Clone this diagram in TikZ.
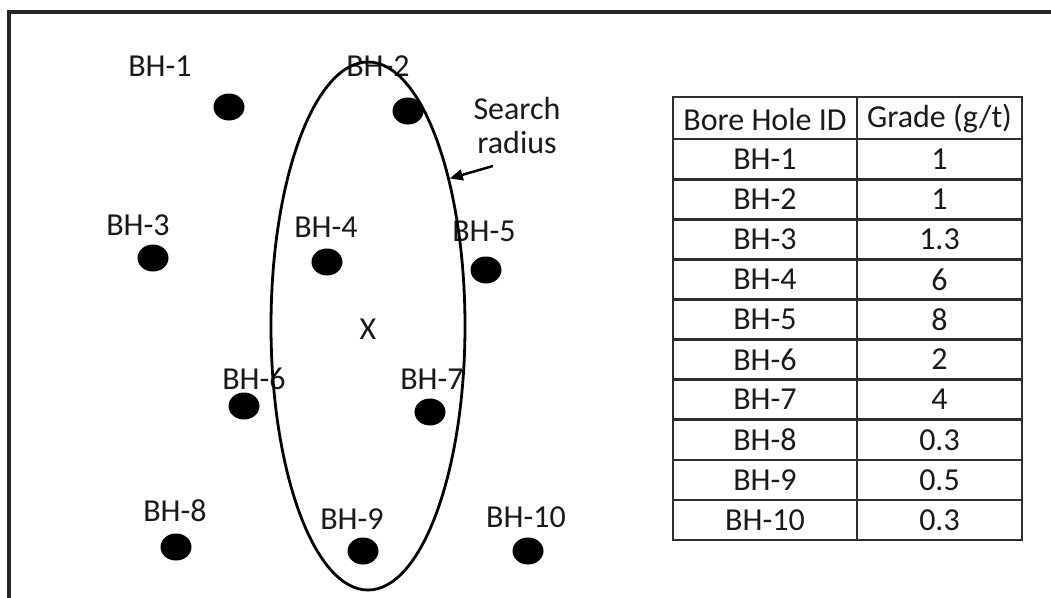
\documentclass[tikz,border=0pt]{standalone}
\usepackage{fontspec}
\setmainfont{Carlito}
\usetikzlibrary{shapes.geometric,arrows.meta}
\begin{document}
\begin{tikzpicture}[x=1pt,y=-1pt,
  lbl/.style={inner sep=0pt,text=black!90,font=\fontsize{32}{37}\selectfont},
  hole/.style={ellipse,fill=black,minimum width=31pt,minimum height=27pt,inner sep=0pt},
  cell/.style={inner sep=0pt,text=black!90,font=\fontsize{32}{37}\selectfont},
  grid/.style={line width=2.8pt,black!82}]
\useasboundingbox (0,0) rectangle (1051,597);
% frame
\draw[line width=4pt,black!85] (9,650) -- (9,11.5) -- (1100,11.5);
% holes
\node[hole] (h1) at (229,107) {};
\node[hole] (h2) at (408,111) {};
\node[hole] (h3) at (153,258) {};
\node[hole] (h4) at (327,262) {};
\node[hole] (h5) at (486,270) {};
\node[hole] (h6) at (244,406) {};
\node[hole] (h7) at (430,412) {};
\node[hole] (h8) at (176,547) {};
\node[hole] (h9) at (363,551) {};
\node[hole] (h10) at (528,551) {};
% labels
\node[lbl] (l1) at (160,66) {BH-1};
\node[lbl] (l2) at (378,66) {BH-2};
\node[lbl] (l3) at (138,225) {BH-3};
\node[lbl] (l4) at (326,227) {BH-4};
\node[lbl] (l5) at (484,231) {BH-5};
\node[lbl] (l6) at (254,379) {BH-6};
\node[lbl] (l7) at (432,379) {BH-7};
\node[lbl] (l8) at (175,511) {BH-8};
\node[lbl] (l9) at (352,519) {BH-9};
\node[lbl] (l10) at (526,517) {BH-10};
\node[lbl] (x) at (368,329) {X};
% search ellipse
\node[ellipse,draw,line width=2.8pt,minimum width=194pt,minimum height=528pt,inner sep=0pt] (search) at (368,326) {};
\node[lbl,align=center] (sr) at (517,126) {Search\\[-3pt]radius};
\coordinate (at) at (493,166);
\draw[line width=2.5pt,-{Triangle[length=13pt,width=11pt]}] (at) -- (search.61);
% table
\def\xa{673}\def\xb{857}\def\xc{1022}
\draw[grid] (\xa,97) rectangle (\xc,540);
\draw[grid] (\xb,97) -- (\xb,540);
\foreach \yy in {139,179.1,219.2,259.3,299.4,339.6,379.7,419.8,459.9,500} {
  \draw[grid] (\xa,\yy) -- (\xc,\yy);
}
\node[cell] (th1) at (765,119) {Bore Hole ID};
\node[cell] (th2) at (939.5,119) {Grade (g/t)};
\foreach \n/\g [count=\i] in {BH-1/1,BH-2/1,BH-3/1.3,BH-4/6,BH-5/8,BH-6/2,BH-7/4,BH-8/0.3,BH-9/0.5,BH-10/0.3} {
  \node[cell] (ta\i) at (765,{139+40.1*(\i-0.5)}) {\n};
  \node[cell] (tb\i) at (939.5,{139+40.1*(\i-0.5)}) {\g};
}
\end{tikzpicture}
\end{document}
